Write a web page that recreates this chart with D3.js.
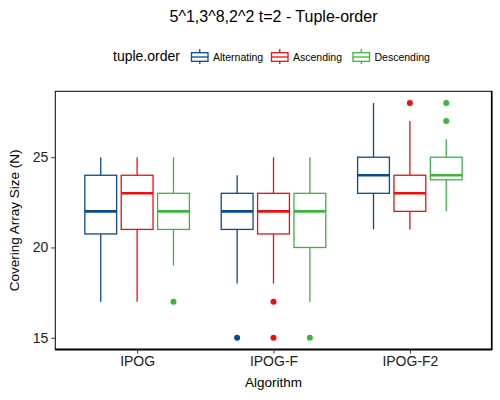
<!DOCTYPE html>
<meta charset="utf-8">
<head>
    <title>Tuple-order</title>
    <script src="https://d3js.org/d3.v7.min.js"></script>
    <style>
        body { margin: 0; background: #fff; }
        text { font-family: "Liberation Sans", Arial, sans-serif; }
    </style>
</head>
<body>
<svg id="chart" width="500" height="400"></svg>
<script>
    // data
    var algorithms = ["IPOG", "IPOG-F", "IPOG-F2"]
    var orders = ["Alternating", "Ascending", "Descending"]
    var colors = ["#0b4a93", "#f20d0d", "#3db53d"]

    // one row per algorithm, one value per tuple order
    var lowerWhisker = [[17, 17, 19], [18, 18, 17], [21, 21, 22]]
    var lowerHinge   = [[20.75, 21, 21], [21, 20.75, 20], [23, 22, 23.75]]
    var medians      = [[22, 23, 22], [22, 22, 22], [24, 23, 24]]
    var upperHinge   = [[24, 24, 23], [23, 23, 23], [25, 24, 25]]
    var upperWhisker = [[25, 25, 25], [24, 25, 25], [28, 27, 26]]
    var outliers     = [[[], [], [17]], [[15], [17, 15], [15]], [[], [28], [27, 28]]]
    var yTicks = [15, 20, 25]

    var svg = d3.select("#chart")
    var pLeft = 55.3, pRight = 491.7, pTop = 91.3, pBottom = 349.5

    var x = d3.scalePoint()
        .domain(algorithms)
        .range([pLeft, pRight])
        .padding(0.6)
    var step = x.step()

    // dodge: 0.8 of a step split in three, boxes 0.7 wide
    var xSub = d3.scaleBand()
        .domain(orders)
        .range([-0.4 * step, 0.4 * step])
        .paddingInner(0.125)
        .paddingOuter(0.0625)

    var y = d3.scaleLinear()
        .domain([15 - 0.65, 28 + 0.65])
        .range([pBottom, pTop])

    // title
    svg.append("text")
        .attr("x", (pLeft + pRight) / 2)
        .attr("y", 22)
        .attr("text-anchor", "middle")
        .style("font-size", "16px")
        .text("5^1,3^8,2^2 t=2 - Tuple-order")

    // legend
    var legend = svg.append("g")
    legend.append("text")
        .attr("x", 113)
        .attr("y", 61)
        .style("font-size", "14px")
        .text("tuple.order")
    var keyX = [191, 271, 352.5]
    orders.forEach(function(o, i) {
        var k = legend.append("g")
            .attr("transform", "translate(" + keyX[i] + ",49)")
            .style("stroke", colors[i])
            .style("fill", "none")
            .style("stroke-width", 1.3)
        k.append("rect").attr("x", 0.5).attr("y", 3.7).attr("width", 16.5).attr("height", 8.6)
        k.append("line").attr("x1", 0.5).attr("x2", 17).attr("y1", 8).attr("y2", 8)
        k.append("line").attr("x1", 8.75).attr("x2", 8.75).attr("y1", 0).attr("y2", 3.7)
        k.append("line").attr("x1", 8.75).attr("x2", 8.75).attr("y1", 12.3).attr("y2", 15)
        legend.append("text")
            .attr("x", keyX[i] + 22)
            .attr("y", 61)
            .style("font-size", "10.5px")
            .text(o)
    })

    // boxes
    var g = svg.append("g")
    algorithms.forEach(function(a, ai) {
        orders.forEach(function(o, oi) {
            var x0 = x(a) + xSub(o)
            var w = xSub.bandwidth()
            var cx = x0 + w / 2
            var b = g.append("g")
                .style("stroke", colors[oi])
                .style("fill", "none")
                .style("stroke-width", 1.3)
            b.append("line")
                .attr("x1", cx).attr("x2", cx)
                .attr("y1", y(upperWhisker[ai][oi])).attr("y2", y(upperHinge[ai][oi]))
            b.append("line")
                .attr("x1", cx).attr("x2", cx)
                .attr("y1", y(lowerHinge[ai][oi])).attr("y2", y(lowerWhisker[ai][oi]))
            b.append("rect")
                .attr("x", x0).attr("width", w)
                .attr("y", y(upperHinge[ai][oi]))
                .attr("height", y(lowerHinge[ai][oi]) - y(upperHinge[ai][oi]))
                .style("fill", "#fff")
            b.append("line")
                .attr("x1", x0).attr("x2", x0 + w)
                .attr("y1", y(medians[ai][oi])).attr("y2", y(medians[ai][oi]))
                .style("stroke-width", 2.6)
            b.selectAll("circle")
                .data(outliers[ai][oi])
                .enter()
                .append("circle")
                .attr("cx", cx)
                .attr("cy", function(d) { return y(d) })
                .attr("r", 3)
                .style("fill", colors[oi])
                .style("stroke", "none")
        })
    })

    // panel border
    svg.append("rect")
        .attr("x", pLeft).attr("y", pTop)
        .attr("width", pRight - pLeft).attr("height", pBottom - pTop)
        .style("fill", "none").style("stroke", "#000").style("stroke-width", 1)
    svg.append("line")
        .attr("x1", pLeft).attr("x2", pRight + 0.5)
        .attr("y1", pBottom).attr("y2", pBottom)
        .style("stroke", "#000").style("stroke-width", 2.2)
    svg.append("line")
        .attr("x1", pRight).attr("x2", pRight)
        .attr("y1", pTop).attr("y2", pBottom)
        .style("stroke", "#000").style("stroke-width", 1.6)

    // axes
    var yAxis = svg.append("g")
        .attr("transform", "translate(" + pLeft + ",0)")
        .call(d3.axisLeft(y).tickValues(yTicks).tickSize(4).tickPadding(3))
    var xAxis = svg.append("g")
        .attr("transform", "translate(0," + pBottom + ")")
        .call(d3.axisBottom(x).tickSize(4).tickPadding(3))
    ;[yAxis, xAxis].forEach(function(ax) {
        ax.select(".domain").remove()
        ax.selectAll("line").style("stroke", "#333").style("stroke-width", 1)
        ax.selectAll("text").style("font-size", "14px").style("fill", "#222")
            .style("font-family", "'Liberation Sans', Arial, sans-serif")
    })

    svg.append("text")
        .attr("x", (pLeft + pRight) / 2)
        .attr("y", 387)
        .attr("text-anchor", "middle")
        .style("font-size", "13.5px")
        .text("Algorithm")
    svg.append("text")
        .attr("transform", "translate(19," + (pTop + pBottom) / 2 + ") rotate(-90)")
        .attr("text-anchor", "middle")
        .style("font-size", "13.5px")
        .text("Covering Array Size (N)")
</script>
</body>
